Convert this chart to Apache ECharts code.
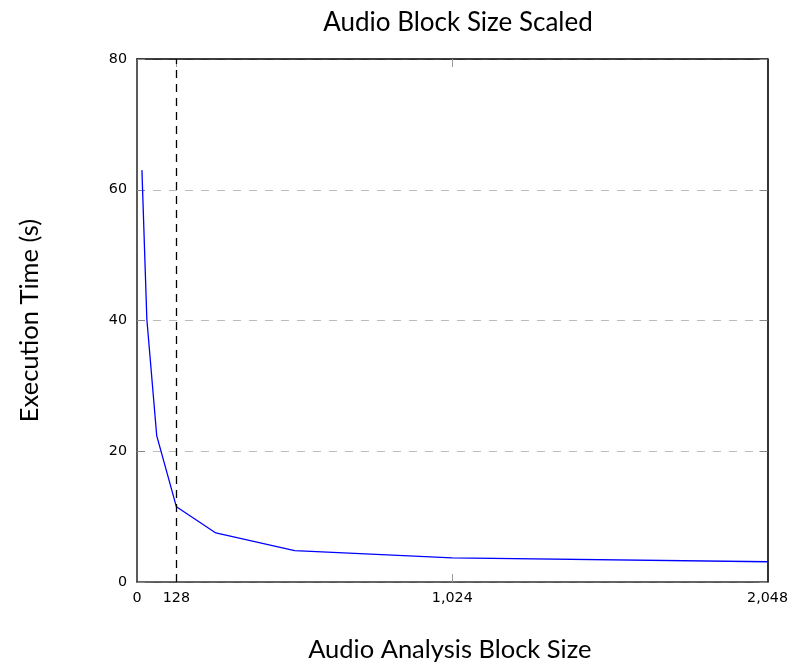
<!DOCTYPE html>
<html>
<head>
<meta charset="utf-8">
<script src="https://cdn.jsdelivr.net/npm/echarts@6/dist/echarts.min.js"></script>
<style>html,body{margin:0;padding:0;background:#fff;}#c{width:791px;height:668px;}</style>
</head>
<body>
<div id="c"></div>
<script>
const blockSizes = [16, 32, 64, 128, 256, 512, 1024, 2048];
const execTimes = [63.0, 40.2, 22.4, 11.5, 7.5, 4.8, 3.7, 3.1];
const xTickLabels = [0, 128, 1024, 2048];
const xTickMarks = [128, 1024];
const markerX = 128;

const chart = echarts.init(document.getElementById('c'), null, {renderer: 'canvas'});
const tickFont = {fontFamily: 'DejaVu Sans', fontSize: 14.3, color: '#000'};
chart.setOption({
  animation: false,
  backgroundColor: '#fff',
  title: {
    text: 'Audio Block Size Scaled',
    left: 453, top: 5, textAlign: 'center',
    textStyle: {fontFamily: 'Lato', fontSize: 26, fontWeight: 'normal', color: '#000'}
  },
  grid: {left: 137, right: 22, top: 59, bottom: 85},
  xAxis: [{
    type: 'value', min: 0, max: 2048, position: 'bottom',
    name: 'Audio Analysis Block Size', nameLocation: 'middle', nameGap: 55,
    nameTextStyle: {fontFamily: 'Lato', fontSize: 25.5, color: '#000', padding: [0, 5, 0, 0]},
    axisLine: {show: true, onZero: false, lineStyle: {color: '#333', width: 1.6}},
    axisTick: {show: true, inside: true, length: 8, customValues: xTickMarks, lineStyle: {color: '#999'}},
    axisLabel: {show: true, customValues: xTickLabels, margin: 9, ...tickFont,
      formatter: v => v.toLocaleString('en-US')},
    splitLine: {show: false}
  }, {
    type: 'value', min: 0, max: 2048, position: 'top',
    axisLine: {show: true, onZero: false, lineStyle: {color: '#000', width: 1.6}},
    axisTick: {show: true, inside: true, length: 8, customValues: xTickMarks, lineStyle: {color: '#999'}},
    axisLabel: {show: false},
    splitLine: {show: false}
  }],
  yAxis: [{
    type: 'value', min: 0, max: 80, interval: 20, position: 'left',
    name: 'Execution Time (s)', nameLocation: 'middle', nameGap: 94,
    nameTextStyle: {fontFamily: 'Lato', fontSize: 25.5, color: '#000'},
    axisLine: {show: true, onZero: false, lineStyle: {color: '#333', width: 1.6}},
    axisTick: {show: true, inside: true, length: 8, lineStyle: {color: '#888'}},
    axisLabel: {show: true, margin: 10, ...tickFont},
    splitLine: {show: true, lineStyle: {color: '#bbb', type: [8, 8], width: 1}}
  }, {
    type: 'value', min: 0, max: 80, interval: 20, position: 'right',
    axisLine: {show: true, onZero: false, lineStyle: {color: '#000', width: 1.6}},
    axisTick: {show: true, inside: true, length: 8, lineStyle: {color: '#888'}},
    axisLabel: {show: false},
    splitLine: {show: false}
  }],
  series: [{
    type: 'line',
    data: blockSizes.map((x, i) => [x, execTimes[i]]),
    showSymbol: false,
    lineStyle: {color: '#0000ff', width: 1.3},
    itemStyle: {color: '#0000ff'},
    markLine: {
      silent: true, symbol: 'none',
      label: {show: false},
      lineStyle: {color: '#000', type: [8, 6], width: 1.3},
      data: [{xAxis: markerX}]
    },
    z: 3
  }]
});
</script>
</body>
</html>
